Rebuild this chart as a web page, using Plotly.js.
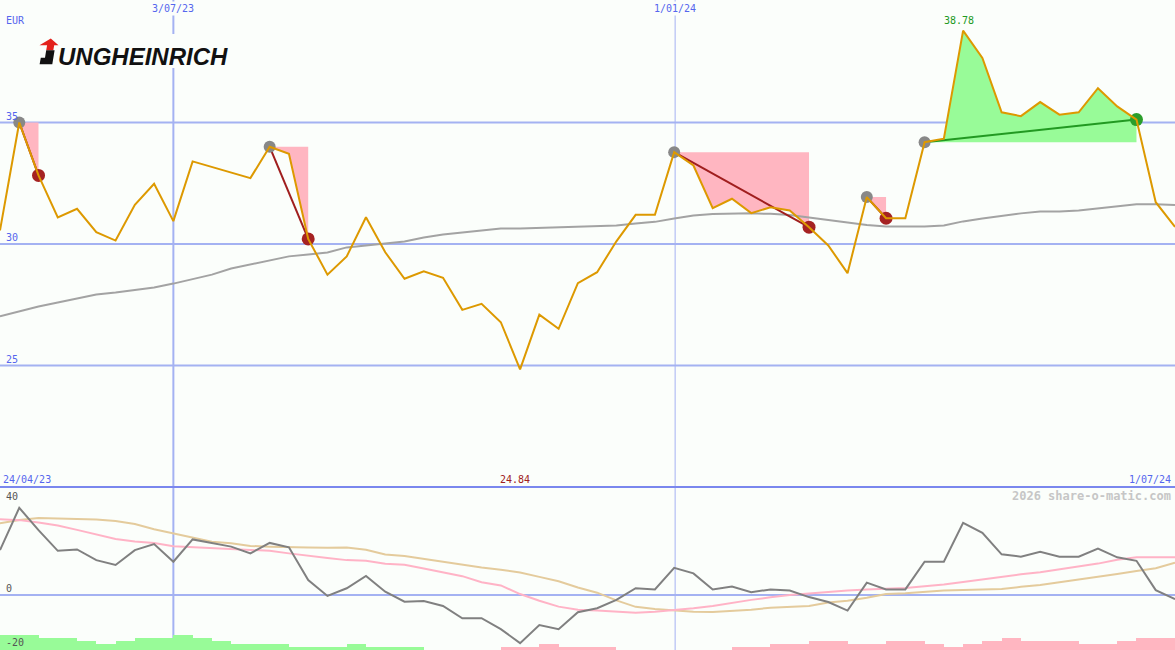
<!DOCTYPE html>
<html>
<head>
<meta charset="utf-8">
<script src="https://cdn.plot.ly/plotly-3.0.1.min.js"></script>
<style>
  html, body { margin: 0; padding: 0; background: #fbfefb; }
  #chart { width: 1175px; height: 650px; }
</style>
</head>
<body>
<div id="chart"></div>
<script>
// Weekly closing prices (EUR), one value per week
const price = [
  30.56, 35.00, 32.82, 31.09, 31.45, 30.49, 30.14, 31.61, 32.48, 30.94,
  33.40, 33.18, 32.96, 32.71, 34.00, 33.71, 30.21, 28.74, 29.49, 31.10,
  29.66, 28.57, 28.88, 28.61, 27.29, 27.54, 26.78, 24.84, 27.09, 26.51,
  28.39, 28.84, 30.11, 31.20, 31.20, 33.78, 33.23, 31.47, 31.86, 31.27,
  31.51, 31.38, 30.69, 29.94, 28.80, 31.93, 31.06, 31.06, 34.19, 34.33,
  38.78, 37.66, 35.42, 35.26, 35.84, 35.32, 35.42, 36.41, 35.66, 35.12,
  31.72, 30.70
];

// Long moving average of the price
const movingAvg = [
  27.02, 27.22, 27.43, 27.59, 27.76, 27.92, 28.00, 28.09, 28.21, 28.37,
  28.54, 28.74, 28.99, 29.16, 29.32, 29.49, 29.57, 29.65, 29.86, 29.94,
  30.02, 30.10, 30.27, 30.39, 30.47, 30.56, 30.64, 30.64, 30.66, 30.68,
  30.70, 30.72, 30.76, 30.84, 30.91, 31.05, 31.17, 31.23, 31.26, 31.26,
  31.24, 31.19, 31.09, 30.99, 30.86, 30.78, 30.72, 30.72, 30.72, 30.76,
  30.93, 31.05, 31.17, 31.26, 31.34, 31.34, 31.38, 31.46, 31.54, 31.63,
  31.64, 31.60
];

// Momentum oscillator (lower panel) and its two smoothings
const oscillator = [
  19.3, 37.5, 27.9, 19.0, 19.6, 15.0, 12.9, 19.3, 21.9, 14.3,
  23.9, 22.3, 20.8, 17.9, 22.4, 20.5, 6.4, -0.4, 2.9, 8.2,
  1.4, -2.9, -2.6, -4.7, -10.0, -10.0, -14.7, -20.7, -12.9, -14.7,
  -7.4, -5.7, -2.1, 2.9, 2.4, 11.7, 9.3, 2.4, 3.6, 1.2,
  2.4, 1.9, -0.9, -3.0, -6.7, 5.3, 2.4, 2.4, 14.3, 14.3,
  31.0, 26.7, 17.5, 16.5, 18.6, 16.5, 16.5, 20.0, 16.2, 14.7,
  2.1, -1.8
];
const oscFast = [
  32.6, 32.2, 31.2, 29.9, 28.0, 26.2, 24.1, 23.0, 22.4, 21.0,
  20.6, 20.1, 19.9, 19.6, 19.0, 17.9, 16.8, 15.9, 15.0, 14.7,
  13.4, 13.0, 11.4, 9.7, 8.1, 5.5, 4.1, 0.4, -2.5, -5.0,
  -6.3, -6.7, -7.3, -7.6, -7.2, -6.6, -5.7, -4.7, -3.3, -2.1,
  -1.0, 0.0, 0.6, 1.4, 1.9, 2.4, 2.8, 3.0, 3.8, 4.5,
  5.6, 6.8, 7.8, 8.9, 9.8, 11.0, 12.1, 13.5, 15.2, 16.2,
  16.2, 16.2
];
const oscSlow = [
  30.8, 32.3, 33.1, 33.0, 32.7, 32.5, 31.8, 30.5, 28.3, 26.5,
  24.4, 22.9, 22.3, 21.1, 20.8, 20.5, 20.4, 20.3, 20.4, 19.5,
  17.4, 16.8, 15.5, 14.3, 13.2, 11.8, 10.9, 9.7, 7.8, 5.9,
  3.2, 1.0, -2.3, -5.1, -6.0, -6.7, -7.2, -7.3, -6.9, -6.3,
  -5.5, -5.0, -4.7, -3.2, -2.5, -1.2, 0.4, 0.7, 1.4, 1.9,
  2.1, 2.3, 2.6, 3.5, 4.3, 5.5, 6.6, 7.7, 9.0, 10.3,
  11.5, 13.9
];

// Weekly strength bars: level and direction (1 = up, -1 = down, 0 = none)
const barLevel = [
  5, 5, 4, 4, 3, 2, 3, 4, 4, 5,
  4, 3, 2, 2, 2, 1, 1, 1, 2, 1,
  1, 1, 0, 0, 0, 0, 1, 1, 2, 1,
  1, 1, 0, 0, 0, 0, 0, 0, 1, 1,
  2, 2, 3, 3, 2, 2, 3, 3, 2, 1,
  2, 3, 4, 3, 3, 3, 2, 2, 3, 4,
  4, 0
];
const barDir = [
  1, 1, 1, 1, 1, 1, 1, 1, 1, 1,
  1, 1, 1, 1, 1, 1, 1, 1, 1, 1,
  1, 1, 0, 0, 0, 0, -1, -1, -1, -1,
  -1, -1, 0, 0, 0, 0, 0, 0, -1, -1,
  -1, -1, -1, -1, -1, -1, -1, -1, -1, -1,
  -1, -1, -1, -1, -1, -1, -1, -1, -1, -1,
  -1, 0
];

// Trade signals: entry week, exit week (1-based week numbers)
const signalStart = [2, 15, 36, 46, 49];
const signalEnd   = [3, 17, 43, 47, 60];

// Axis labelling
const priceGrid = [25, 30, 35];
const oscGrid = [0];
const oscLabels = [40, 0, -20];
const dateTickPos = [10, 36.05];
const dateTickText = ['3/07/23', '1/01/24'];
const dateTickWidth = [2, 1];
const periodStart = '24/04/23';
const periodEnd = '1/07/24';

const week = price.map((_, k) => k + 1);

const BG = '#fbfefb';
const GRID = '#a4b2f2';
const SEP = '#7a87ee';
const LABEL = '#5566ee';
const PINK = '#ffb6c1';
const GREEN_FILL = '#98fb98';
const ORANGE = '#dd9900';
const W = 1175, H = 650;
const px = x => x / W;
const py = y => 1 - y / H;
const split = 487;

const traces = [];

// strength bars in the lower panel
traces.push({
  type: 'bar',
  x: week.map(w => w + 0.5),
  y: barLevel,
  width: 1,
  xaxis: 'x', yaxis: 'y3',
  marker: { color: barDir.map(d => d > 0 ? GREEN_FILL : PINK), line: { width: 0 } },
  hoverinfo: 'skip'
});

// oscillator lines
traces.push({ type: 'scatter', mode: 'lines', x: week, y: oscSlow, xaxis: 'x', yaxis: 'y2',
  line: { color: '#e4cb9c', width: 2 }, hoverinfo: 'skip' });
traces.push({ type: 'scatter', mode: 'lines', x: week, y: oscFast, xaxis: 'x', yaxis: 'y2',
  line: { color: '#ffb3c6', width: 2 }, hoverinfo: 'skip' });
traces.push({ type: 'scatter', mode: 'lines', x: week, y: oscillator, xaxis: 'x', yaxis: 'y2',
  line: { color: '#808080', width: 2 }, hoverinfo: 'skip' });

// signal areas: between entry level and price until exit
signalStart.forEach((s, k) => {
  const e = signalEnd[k];
  const gain = price[e - 1] > price[s - 1];
  const xs = [], ys = [];
  for (let w = s; w <= e; w++) { xs.push(w); ys.push(price[w - 1]); }
  xs.push(e, s); ys.push(price[s - 1], price[s - 1]);
  traces.push({
    type: 'scatter', mode: 'lines', x: xs, y: ys, fill: 'toself',
    fillcolor: gain ? GREEN_FILL : PINK, line: { width: 0, color: 'rgba(0,0,0,0)' },
    xaxis: 'x', yaxis: 'y', hoverinfo: 'skip'
  });
});

// moving average
traces.push({ type: 'scatter', mode: 'lines', x: week, y: movingAvg, xaxis: 'x', yaxis: 'y',
  line: { color: '#a3a3a3', width: 2 }, hoverinfo: 'skip' });

// signal lines and markers
signalStart.forEach((s, k) => {
  const e = signalEnd[k];
  const gain = price[e - 1] > price[s - 1];
  traces.push({
    type: 'scatter', mode: 'lines', x: [s, e], y: [price[s - 1], price[e - 1]],
    line: { color: gain ? '#229922' : '#a01e1e', width: 2 },
    xaxis: 'x', yaxis: 'y', hoverinfo: 'skip'
  });
});
traces.push({
  type: 'scatter', mode: 'markers',
  x: signalStart, y: signalStart.map(s => price[s - 1]),
  marker: { color: '#888888', size: 12 }, xaxis: 'x', yaxis: 'y', hoverinfo: 'skip'
});
traces.push({
  type: 'scatter', mode: 'markers',
  x: signalEnd, y: signalEnd.map(e => price[e - 1]),
  marker: {
    color: signalEnd.map((e, k) => price[e - 1] > price[signalStart[k] - 1] ? '#2a9e2a' : '#a52222'),
    size: 13
  },
  xaxis: 'x', yaxis: 'y', hoverinfo: 'skip'
});

// price line
traces.push({ type: 'scatter', mode: 'lines', x: week, y: price, xaxis: 'x', yaxis: 'y',
  line: { color: ORANGE, width: 2 }, hoverinfo: 'skip' });

// grid and frame lines
const shapes = [];
priceGrid.forEach(v => shapes.push({ type: 'line', xref: 'paper', x0: 0, x1: 1, yref: 'y', y0: v, y1: v,
  line: { color: GRID, width: 2 }, layer: 'below' }));
oscGrid.forEach(v => shapes.push({ type: 'line', xref: 'paper', x0: 0, x1: 1, yref: 'y2', y0: v, y1: v,
  line: { color: GRID, width: 2 }, layer: 'below' }));
dateTickPos.forEach((p, k) => shapes.push({ type: 'line', xref: 'x', x0: p, x1: p, yref: 'paper', y0: 0, y1: 1,
  line: { color: GRID, width: dateTickWidth[k] }, layer: 'below' }));
shapes.push({ type: 'line', xref: 'paper', x0: 0, x1: 1, yref: 'paper', y0: py(split), y1: py(split),
  line: { color: SEP, width: 2 }, layer: 'below' });

// logo plate, the red arrow and the black foot of the "J"
function polyPath(pts) {
  return 'M' + pts.map(p => px(p[0]) + ',' + py(p[1])).join(' L') + ' Z';
}
shapes.push({ type: 'rect', xref: 'paper', yref: 'paper', x0: px(34), x1: px(236), y0: py(68), y1: py(34),
  fillcolor: BG, line: { width: 0 }, layer: 'above' });
const logoArrow = [[50.8, 38.5], [58.5, 45.2], [54.2, 45.2], [53.3, 50.2], [46.2, 50.2], [47.1, 45.2], [39.5, 45.2]];
const logoFoot = [[46.2, 50.2], [54.6, 50.2], [52.3, 64.3], [39.6, 64.3], [40.8, 57.8], [45.0, 57.8]];
shapes.push({ type: 'path', xref: 'paper', yref: 'paper', path: polyPath(logoArrow),
  fillcolor: '#e3211b', line: { width: 0 }, layer: 'above' });
shapes.push({ type: 'path', xref: 'paper', yref: 'paper', path: polyPath(logoFoot),
  fillcolor: '#111111', line: { width: 0 }, layer: 'above' });

const mono = 'DejaVu Sans Mono';
const annotations = [];
function label(text, x, y, opts) {
  annotations.push(Object.assign({
    text, xref: 'paper', yref: 'paper', x: px(x), y: py(y),
    xanchor: 'left', yanchor: 'middle', showarrow: false,
    font: { family: mono, size: 10, color: LABEL }
  }, opts || {}));
}
label('EUR', 4, 20);
priceGrid.forEach(v => annotations.push({
  text: String(v), xref: 'paper', yref: 'y', x: px(4), y: v, yshift: 6,
  xanchor: 'left', yanchor: 'middle', showarrow: false,
  font: { family: mono, size: 10, color: LABEL }
}));
dateTickPos.forEach((p, k) => annotations.push({
  text: dateTickText[k], xref: 'x', yref: 'paper', x: p, y: py(9),
  xanchor: 'center', yanchor: 'middle', showarrow: false, bgcolor: BG,
  font: { family: mono, size: 10, color: LABEL }
}));
oscLabels.forEach(v => annotations.push({
  text: String(v), xref: 'paper', yref: 'y2', x: px(4), y: v, yshift: v === -20 ? -1 : 6,
  xanchor: 'left', yanchor: 'middle', showarrow: false,
  font: { family: mono, size: 10, color: '#555555' }
}));
label(periodStart, 1, 479);
label(periodEnd, 1173, 479, { xanchor: 'right' });

// highest and lowest close
const hi = Math.max(...price), lo = Math.min(...price);
annotations.push({
  text: hi.toFixed(2), xref: 'x', yref: 'paper', x: price.indexOf(hi) + 1, xshift: -4, y: py(21),
  xanchor: 'center', yanchor: 'middle', showarrow: false,
  font: { family: mono, size: 10, color: '#229922' }
});
annotations.push({
  text: lo.toFixed(2), xref: 'x', yref: 'paper', x: price.indexOf(lo) + 1, xshift: -5, y: py(479),
  xanchor: 'center', yanchor: 'middle', showarrow: false,
  font: { family: mono, size: 10, color: '#a02020' }
});

label('<b>2026 share-o-matic.com</b>', 1173, 496, {
  xanchor: 'right', font: { family: mono, size: 12, color: '#c6c6c6' }
});

// company logo lettering after the drawn "J"
label('<b><i>UNGHEINRICH</i></b>', 56, 56.5, {
  font: { family: 'Liberation Sans', size: 24, color: '#111111' }
});

const layout = {
  width: W, height: H,
  margin: { l: 0, r: 0, t: 0, b: 0, pad: 0 },
  paper_bgcolor: BG, plot_bgcolor: BG,
  showlegend: false, hovermode: false, bargap: 0,
  xaxis: { range: [1, 62], visible: false, fixedrange: true },
  yaxis: { domain: [py(split), 1], range: [20, 40.04], visible: false, fixedrange: true },
  yaxis2: { domain: [0, py(split)], range: [-23.66, 46.45], visible: false, fixedrange: true },
  yaxis3: { overlaying: 'y2', range: [0, 54.33], visible: false, fixedrange: true },
  shapes, annotations
};

Plotly.newPlot('chart', traces, layout, { staticPlot: true, displayModeBar: false });
</script>
</body>
</html>
